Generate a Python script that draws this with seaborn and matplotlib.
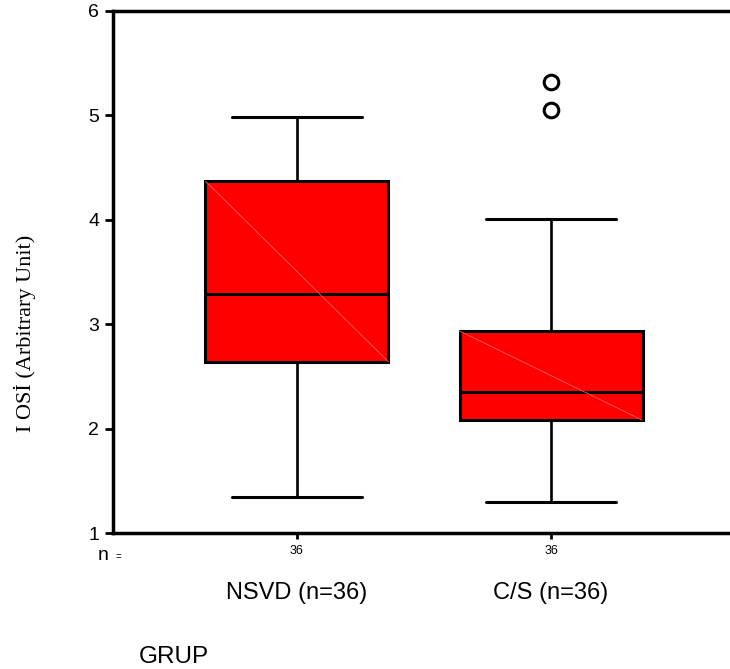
import matplotlib
matplotlib.use("Agg")
import matplotlib.pyplot as plt
import matplotlib.transforms as mtransforms
import seaborn as sns

# ---- data ----
groups = ["NSVD (n=36)", "C/S (n=36)"]
counts = [36, 36]
whisker_low = [1.345, 1.30]
q1 = [2.64, 2.08]
median = [3.29, 2.35]
q3 = [4.37, 2.935]
whisker_high = [4.98, 4.01]
outliers = [[], [5.05, 5.32]]
y_ticks = [1, 2, 3, 4, 5, 6]

sns.set_style("white")
plt.rcParams["font.family"] = ["Liberation Sans", "DejaVu Sans"]
plt.rcParams["text.color"] = "black"
plt.rcParams["axes.labelcolor"] = "black"
plt.rcParams["xtick.color"] = "black"
plt.rcParams["ytick.color"] = "black"

fig = plt.figure(figsize=(7.3, 6.69), dpi=100)
ax = fig.add_axes([113 / 730, 1 - 533 / 669, 622 / 730, 522 / 669])

stats = []
for g, wl, a, m, b, wh, f in zip(groups, whisker_low, q1, median, q3, whisker_high, outliers):
    stats.append(dict(label=g, whislo=wl, q1=a, med=m, q3=b, whishi=wh, fliers=f))

positions = list(range(1, len(groups) + 1))
bp = ax.bxp(
    stats, positions=positions, widths=0.72, capwidths=0.51,
    patch_artist=True, showfliers=True, manage_ticks=False,
    boxprops=dict(facecolor="#ff0000", edgecolor="black", linewidth=2.2),
    medianprops=dict(color="black", linewidth=2.2),
    whiskerprops=dict(color="black", linewidth=1.9),
    capprops=dict(color="black", linewidth=2.2),
    flierprops=dict(marker="o", markerfacecolor="white", markeredgecolor="black",
                    markersize=10.5, markeredgewidth=2.2),
)

# faint diagonal inside each box (rendering artefact in the reference)
for box in bp["boxes"]:
    verts = box.get_path().vertices
    xs = verts[:, 0]
    ys = verts[:, 1]
    ax.plot([xs.min(), xs.max()], [ys.max(), ys.min()], color="#ff6060",
            linewidth=0.6, zorder=box.get_zorder() + 0.1)

ax.set_xlim(0.276, 2.724)
ax.set_ylim(1, 6)
ax.set_yticks(y_ticks)
ax.set_yticklabels([str(t) for t in y_ticks])
ax.set_xticks(positions)
ax.set_xticklabels([str(c) for c in counts])

for side in ["left", "bottom", "top"]:
    ax.spines[side].set_visible(True)
    ax.spines[side].set_linewidth(2.5)
    ax.spines[side].set_color("black")
ax.spines["right"].set_visible(False)

ax.tick_params(axis="y", direction="out", length=6, width=2, labelsize=14, pad=4,
               left=True, colors="black", labelcolor="black")
ax.tick_params(axis="x", direction="out", length=4, width=2, labelsize=9, pad=5,
               bottom=True, colors="black", labelcolor="black")
ax.grid(False)

trans = mtransforms.blended_transform_factory(ax.transData, ax.transAxes)
for p, g in zip(positions, groups):
    ax.text(p, -66 / 522, g, transform=trans, ha="center", va="baseline",
            fontsize=17, color="black")

fig.text(98 / 730, 1 - 560 / 669, "n", fontsize=14, ha="left", va="baseline", color="black")
fig.text(116 / 730, 1 - 560 / 669, "=", fontsize=7, ha="left", va="baseline", color="black")
fig.text(139 / 730, 1 - 663 / 669, "GRUP", fontsize=17.5, ha="left", va="baseline", color="black")
fig.text(25 / 730, 1 - 333 / 669, "I OSİ (Arbitrary Unit)", rotation=90,
         ha="center", va="center", fontsize=16, color="black",
         family=["Liberation Serif", "DejaVu Serif"])

fig.savefig("out.png", dpi=100)
